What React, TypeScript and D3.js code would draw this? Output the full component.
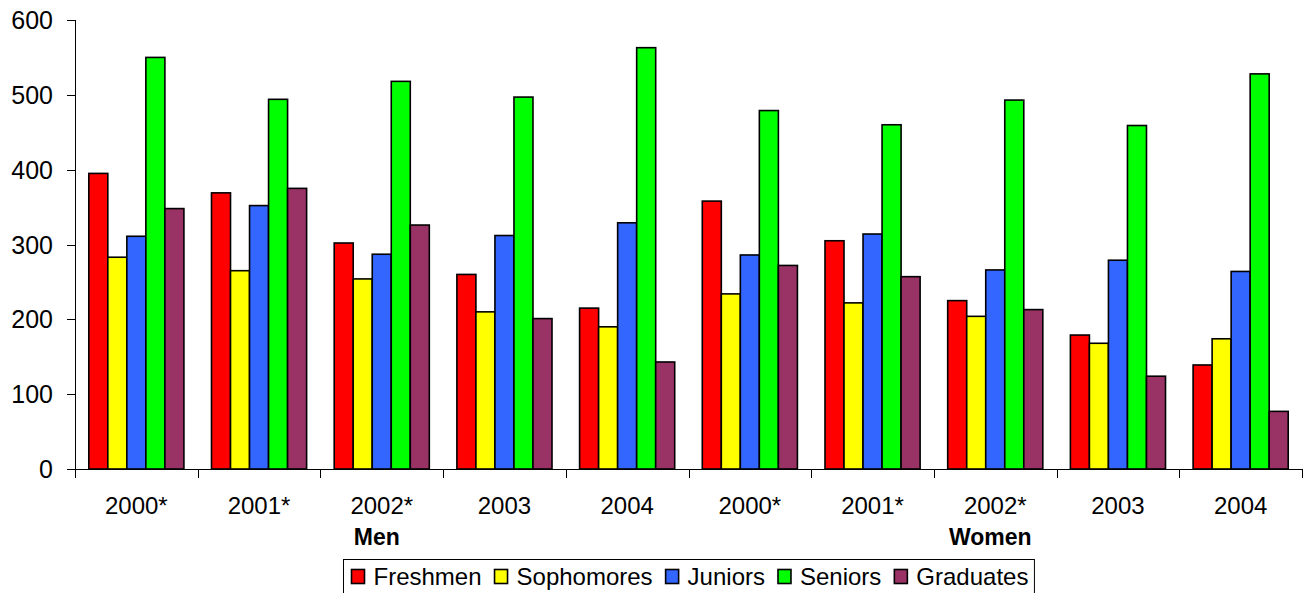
import { useMemo } from "react";
import * as d3 from "d3";

const W = 1304;
const H = 593;
const ML = 75;
const MR = 2;
const MT = 20;
const Y0 = 469;

const YEARS = ["2000*", "2001*", "2002*", "2003", "2004"];
const GROUPS = ["Men", "Women"];
const SERIES = ["Freshmen", "Sophomores", "Juniors", "Seniors", "Graduates"];
const COLORS = ["#ff0000", "#ffff00", "#3366ff", "#00ff00", "#993366"];

// men 2000*..2004, then women 2000*..2004
const FRESHMEN = [395, 369, 302, 260, 215, 358, 305, 225, 179, 139];
const SOPHOMORES = [283, 265, 254, 210, 190, 234, 222, 204, 168, 174];
const JUNIORS = [311, 352, 287, 312, 329, 286, 314, 266, 279, 264];
const SENIORS = [550, 494, 518, 497, 563, 479, 460, 493, 459, 528];
const GRADUATES = [348, 375, 326, 201, 143, 272, 257, 213, 124, 77];

const VALUES = [FRESHMEN, SOPHOMORES, JUNIORS, SENIORS, GRADUATES];
const Y_TICKS = [0, 100, 200, 300, 400, 500, 600];

const FONT = "Liberation Sans, Arial, sans-serif";

function textWidth(s: string, font: string) {
  const ctx = document.createElement("canvas").getContext("2d");
  if (!ctx) return s.length * 12;
  ctx.font = font;
  return ctx.measureText(s).width;
}

export default function App() {
  const cats = GROUPS.flatMap((g) => YEARS.map((y) => `${g}|${y}`));

  const x0 = d3.scaleBand<string>().domain(cats).range([ML, W - MR]).padding(0);
  const x1 = d3
    .scaleBand<string>()
    .domain(SERIES)
    .range([0, x0.bandwidth()])
    .paddingInner(0)
    .paddingOuter(0.725);
  const y = d3.scaleLinear().domain([0, 600]).range([Y0, MT]);

  const legend = useMemo(() => {
    const sw = 13;
    const gapText = 9;
    const gapItem = 13;
    let cx = 0;
    const items = SERIES.map((s, i) => {
      const tw = textWidth(s, `24px ${FONT}`);
      const it = { name: s, color: COLORS[i], x: cx, tw };
      cx += sw + gapText + tw + gapItem;
      return it;
    });
    const total = cx - gapItem;
    return { items, total, sw, gapText };
  }, []);

  const groupCenter = (g: string) => {
    const a = x0(`${g}|${YEARS[0]}`) ?? 0;
    const b = (x0(`${g}|${YEARS[YEARS.length - 1]}`) ?? 0) + x0.bandwidth();
    return (a + b) / 2 - 5;
  };

  const legendW = legend.total + 14;
  const legendX = Math.round((ML + W - MR) / 2 - legendW / 2) + 0.5;
  const legendY = 559.5;

  return (
    <svg
      width={W}
      height={H}
      style={{ position: "absolute", left: 0, top: 0, fontFamily: FONT }}
    >
      <rect width={W} height={H} fill="#fff" />

      {/* bars */}
      {cats.map((c, ci) => (
        <g key={c} transform={`translate(${x0(c)},0)`}>
          {SERIES.map((s, si) => {
            const v = VALUES[si][ci];
            return (
              <rect
                key={s}
                x={x1(s)}
                y={y(v)}
                width={x1.bandwidth()}
                height={Y0 - y(v)}
                fill={COLORS[si]}
                stroke="#000"
                strokeWidth={1.6}
              />
            );
          })}
        </g>
      ))}

      {/* y axis */}
      <line x1={ML + 0.5} x2={ML + 0.5} y1={MT} y2={Y0} stroke="#000" />
      {Y_TICKS.map((t) => (
        <g key={t}>
          <line
            x1={ML - 8}
            x2={ML}
            y1={Math.round(y(t)) + 0.5}
            y2={Math.round(y(t)) + 0.5}
            stroke="#000"
          />
          <text
            x={ML - 22}
            y={y(t)}
            dy="0.36em"
            textAnchor="end"
            fontSize={25}
            fill="#000"
          >
            {t}
          </text>
        </g>
      ))}

      {/* x axis */}
      <line x1={ML} x2={W - MR} y1={Y0 + 0.5} y2={Y0 + 0.5} stroke="#000" />
      {[...cats.map((c) => x0(c) ?? 0), W - MR].map((tx, i) => (
        <line
          key={i}
          x1={Math.round(tx) + 0.5}
          x2={Math.round(tx) + 0.5}
          y1={Y0}
          y2={Y0 + 9}
          stroke="#000"
        />
      ))}
      {cats.map((c) => (
        <text
          key={c}
          x={(x0(c) ?? 0) + x0.bandwidth() / 2}
          y={514}
          textAnchor="middle"
          fontSize={24}
          fill="#000"
        >
          {c.split("|")[1]}
        </text>
      ))}
      {GROUPS.map((g) => (
        <text
          key={g}
          x={groupCenter(g)}
          y={545}
          textAnchor="middle"
          fontSize={23}
          fontWeight="bold"
          fill="#000"
        >
          {g}
        </text>
      ))}

      {/* legend */}
      <g transform={`translate(${legendX},${legendY})`}>
        <rect
          width={legendW}
          height={45}
          fill="#fff"
          stroke="#000"
          strokeWidth={1}
        />
        {legend.items.map((it) => (
          <g key={it.name} transform={`translate(${8 + it.x},0)`}>
            <rect
              x={0}
              y={10}
              width={legend.sw}
              height={14}
              fill={it.color}
              stroke="#000"
              strokeWidth={1.6}
            />
            <text
              x={legend.sw + legend.gapText}
              y={25.5}
              fontSize={24}
              fill="#000"
            >
              {it.name}
            </text>
          </g>
        ))}
      </g>
    </svg>
  );
}
